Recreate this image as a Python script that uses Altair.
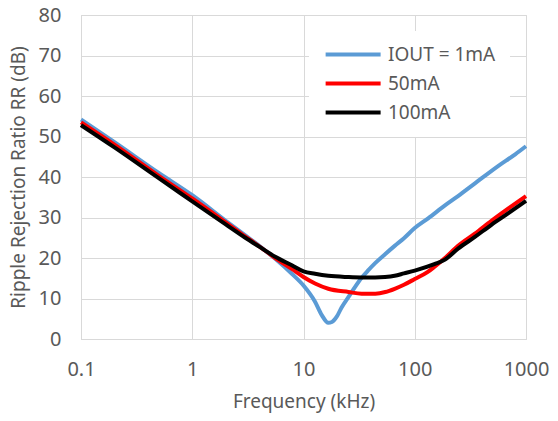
import altair as alt
import pandas as pd

series_names = ["IOUT = 1mA", "50mA", "100mA"]
series_colors = ["#5B9BD5", "#FF0000", "#000000"]

freq_1ma = [0.1, 0.2, 0.5, 1, 2, 3, 4, 5.57, 7.86, 10, 12.7, 14.6, 16.7, 18, 19.9, 22, 25.4, 29, 33.3,
            38.3, 44.3, 54.4, 66, 80, 100, 132, 187, 245, 350, 561, 800, 1000]
rr_1ma = [54.2, 48.6, 41.0, 35.5, 29.2, 25.6, 23.0, 19.8, 16.1, 13.2, 9.2, 5.9, 4.0, 4.2, 5.5, 7.8, 10.4, 12.8, 15.1,
          17.0, 18.8, 21.0, 23.0, 24.9, 27.4, 29.8, 33.0, 35.3, 38.5, 42.7, 45.6, 47.6]

freq_50ma = [0.1, 0.2, 0.5, 1, 2, 3, 4, 5.57, 7.86, 10, 12.7, 16.7, 25.4, 33.3, 44.3, 54.4, 66, 80, 100, 130,
             150, 187, 245, 347, 489, 690, 1000]
rr_50ma = [53.5, 48.0, 40.3, 34.7, 28.8, 25.3, 22.9, 20.0, 17.3, 15.3, 13.7, 12.4, 11.6, 11.2, 11.2, 11.6, 12.4, 13.4, 14.8, 16.5,
           17.8, 20.0, 23.0, 26.0, 29.2, 32.2, 35.3]

freq_100ma = [0.1, 0.2, 0.5, 1, 2, 3, 4, 5.57, 7.86, 10, 12.7, 16.7, 25, 33, 44, 54, 66, 80, 100, 150,
              187, 245, 347, 489, 690, 1000]
rr_100ma = [52.8, 47.3, 39.7, 34.0, 28.3, 25.0, 22.8, 20.3, 18.2, 16.7, 16.1, 15.6, 15.3, 15.2, 15.2, 15.3, 15.6, 16.2, 16.9, 18.5,
            19.6, 22.3, 25.2, 28.2, 31.0, 34.1]

x_ticks = [0.1, 1, 10, 100, 1000]
y_ticks = [0, 10, 20, 30, 40, 50, 60, 70, 80]

rows = []
for name, fs, vs in zip(series_names, [freq_1ma, freq_50ma, freq_100ma], [rr_1ma, rr_50ma, rr_100ma]):
    for i, (f, v) in enumerate(zip(fs, vs)):
        rows.append({"series": name, "freq": f, "rr": v, "idx": i})
df = pd.DataFrame(rows)

FONT = "Noto Sans"
GREY = "#595959"
GRID = "#D9D9D9"

chart = alt.Chart(df).mark_line(strokeWidth=4, interpolate="monotone").encode(
    x=alt.X("freq:Q",
            scale=alt.Scale(type="log", domain=[0.1, 1000]),
            axis=alt.Axis(values=x_ticks, format="~g", title="Frequency (kHz)",
                          labelFontSize=20, labelPadding=20, labelColor=GREY, labelFont=FONT,
                          ticks=False, tickSize=0, domainColor=GRID, gridColor=GRID,
                          titleFontSize=19, titleFont=FONT, titleColor=GREY, titleFontWeight="normal",
                          titleY=62, titleBaseline="middle", labelFlush=False)),
    y=alt.Y("rr:Q",
            scale=alt.Scale(domain=[0, 80]),
            axis=alt.Axis(values=y_ticks, title="Ripple Rejection Ratio RR (dB)",
                          labelFontSize=20, labelPadding=20, labelColor=GREY, labelFont=FONT,
                          ticks=False, tickSize=0, domainColor=GRID, gridColor=GRID,
                          titleFontSize=19, titleFont=FONT, titleColor=GREY, titleFontWeight="normal",
                          titleX=-63, titleY=162, titleBaseline="middle", titleAlign="center")),
    color=alt.Color("series:N",
                    scale=alt.Scale(domain=series_names, range=series_colors),
                    legend=alt.Legend(title=None, orient="none", legendX=228, legendY=16,
                                      symbolType="M-1,0L7,0", symbolSize=189, symbolStrokeWidth=4,
                                      labelFontSize=19, labelFont=FONT, labelColor=GREY, labelOffset=46,
                                      fillColor="white", padding=14, rowPadding=9)),
    order=alt.Order("idx:Q"),
    detail="series:N",
).properties(
    width=445, height=324,
    autosize=alt.AutoSizeParams(type="none"),
    padding={"left": 73, "top": 7, "right": 24, "bottom": 74},
).configure_view(stroke=GRID)

chart.save("out.html", embed_options={"renderer": "svg", "actions": False})
